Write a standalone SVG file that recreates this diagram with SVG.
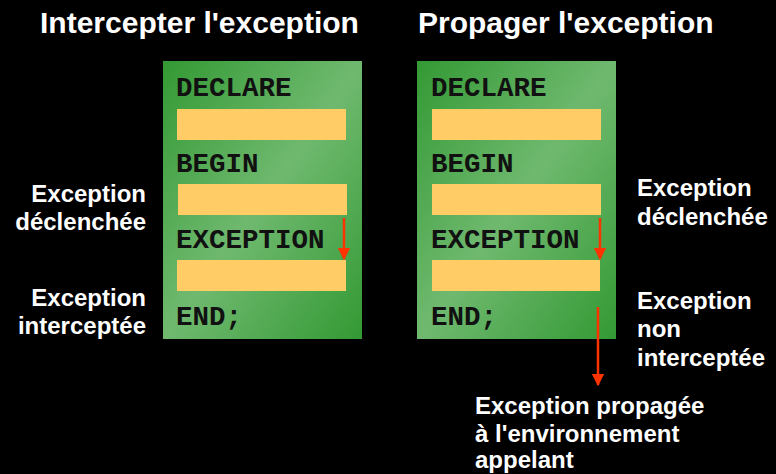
<svg xmlns="http://www.w3.org/2000/svg" width="776" height="474" viewBox="0 0 776 474">
  <defs>
    <linearGradient id="blockFill" x1="0" y1="0" x2="1" y2="1">
      <stop offset="0" stop-color="#339933"/>
      <stop offset="0.5" stop-color="#6fb96f"/>
      <stop offset="1" stop-color="#339933"/>
    </linearGradient>
    <marker id="arrowHead" viewBox="0 0 10 10" refX="9" refY="5" markerWidth="5" markerHeight="5" markerUnits="strokeWidth" orient="auto">
      <path d="M0,0 L10,5 L0,10 z" fill="#ff3300"/>
    </marker>
    <style>
      .title { font-family: "Liberation Sans", Arial, sans-serif; font-weight: bold; font-size: 30px; fill: #ffffff; }
      .label { font-family: "Liberation Sans", Arial, sans-serif; font-weight: bold; font-size: 24px; fill: #ffffff; }
      .code { font-family: "Liberation Mono", "Courier New", monospace; font-weight: bold; font-size: 27.5px; fill: #111111; }
      .slot { fill: #ffcc66; }
      .block { fill: url(#blockFill); }
      .flow { stroke: #ff3300; stroke-width: 2.5; fill: none; marker-end: url(#arrowHead); }
    </style>
  </defs>

  <rect width="776" height="474" fill="#000000"/>

  <!-- Left: handling the exception inside the block -->
  <g id="title-intercepter">
    <text class="title" x="40" y="33">Intercepter l'exception</text>
  </g>
  <g id="block-intercepter">
    <rect class="block" x="163" y="61" width="199" height="278"/>
    <text class="code" x="176" y="96">DECLARE</text>
    <rect class="slot" x="177" y="109" width="169" height="31"/>
    <text class="code" x="176" y="172">BEGIN</text>
    <rect class="slot" x="178" y="184" width="169" height="31"/>
    <text class="code" x="176" y="248">EXCEPTION</text>
    <rect class="slot" x="177" y="260" width="169" height="31"/>
    <text class="code" x="176" y="325">END;</text>
  </g>
  <g id="label-left-raised">
    <text class="label" x="146" y="202" text-anchor="end">Exception</text>
    <text class="label" x="146" y="230" text-anchor="end">déclenchée</text>
  </g>
  <g id="label-left-caught">
    <text class="label" x="146" y="306" text-anchor="end">Exception</text>
    <text class="label" x="146" y="334" text-anchor="end">interceptée</text>
  </g>

  <!-- Right: propagating the exception to the caller -->
  <g id="title-propager">
    <text class="title" x="418" y="33">Propager l'exception</text>
  </g>
  <g id="block-propager">
    <rect class="block" x="417" y="61" width="199" height="278"/>
    <text class="code" x="431" y="96">DECLARE</text>
    <rect class="slot" x="432" y="109" width="169" height="31"/>
    <text class="code" x="431" y="172">BEGIN</text>
    <rect class="slot" x="432" y="184" width="169" height="31"/>
    <text class="code" x="431" y="248">EXCEPTION</text>
    <rect class="slot" x="432" y="260" width="168" height="31"/>
    <text class="code" x="431" y="325">END;</text>
  </g>
  <g id="label-right-raised">
    <text class="label" x="637" y="196">Exception</text>
    <text class="label" x="637" y="225">déclenchée</text>
  </g>
  <g id="label-right-uncaught">
    <text class="label" x="637" y="309">Exception</text>
    <text class="label" x="637" y="337">non</text>
    <text class="label" x="637" y="366">interceptée</text>
  </g>
  <g id="label-propagated">
    <text class="label" x="475" y="414">Exception propagée</text>
    <text class="label" x="475" y="442">à l'environnement</text>
    <text class="label" x="475" y="468">appelant</text>
  </g>

  <g id="connectors">
    <line class="flow" x1="344" y1="218" x2="344" y2="259"/>
    <line class="flow" x1="600" y1="218" x2="600" y2="259"/>
    <line class="flow" x1="598" y1="307" x2="598" y2="385"/>
  </g>
</svg>
